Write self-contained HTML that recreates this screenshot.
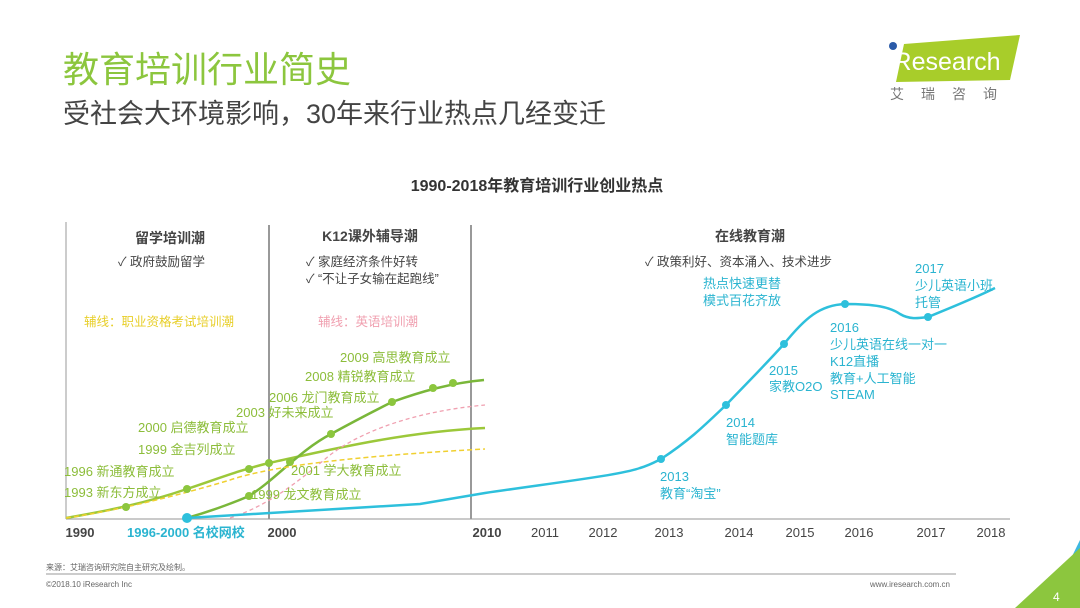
<!DOCTYPE html>
<html><head><meta charset="utf-8"><style>
body{margin:0;background:#fff;}
svg{display:block;font-family:"Liberation Sans","Noto Sans CJK SC",sans-serif;}
</style></head><body>
<svg width="1080" height="608" viewBox="0 0 1080 608">
<text x="63" y="82" font-size="36" fill="#8cc63e">教育培训行业简史</text>
<text x="63" y="123" font-size="27" fill="#444">受社会大环境影响，30年来行业热点几经变迁</text>
<polygon points="904,44 1020,35 1010,80 896,82" fill="#a8cd2a"/>
<circle cx="893" cy="46" r="4" fill="#2a5aa8"/>
<text x="888" y="70" font-size="25" fill="#fff">iResearch</text>
<text x="890" y="99" font-size="14" fill="#777" letter-spacing="17">艾瑞咨询</text>
<text x="537" y="191" font-size="16" font-weight="bold" fill="#333" text-anchor="middle">1990-2018年教育培训行业创业热点</text>
<g stroke="#aaa" stroke-width="1.2" fill="none">
<line x1="66" y1="222" x2="66" y2="519"/>
<line x1="66" y1="519" x2="1010" y2="519"/>
</g>
<g stroke="#999" stroke-width="2"><line x1="269" y1="225" x2="269" y2="519"/><line x1="471" y1="225" x2="471" y2="519"/></g>
<g font-size="14" font-weight="bold" fill="#444" text-anchor="middle">
<text x="170" y="243">留学培训潮</text><text x="370" y="241">K12课外辅导潮</text><text x="750" y="241">在线教育潮</text>
</g>
<g font-size="12.5" fill="#444">
<text x="118" y="266">✓ 政府鼓励留学</text>
<text x="306" y="266">✓   家庭经济条件好转</text>
<text x="306" y="283">✓   “不让子女输在起跑线”</text>
<text x="645" y="266">✓ 政策利好、资本涌入、技术进步</text>
</g>
<text x="84" y="326" font-size="12.5" fill="#e8cf2a">辅线：职业资格考试培训潮</text>
<text x="318" y="326" font-size="12.5" fill="#f0a0b0">辅线：英语培训潮</text>
<g fill="none" stroke-width="2.5">
<path d="M66,518 C100,512 140,505 187,489 C220,478 240,470 269,463 C320,452 400,432 485,428" stroke="#9cc83a"/>
<path d="M187,518 C215,510 240,500 249,496 C275,480 300,450 331,434 C360,418 380,408 392,402 C420,392 450,383 484,380" stroke="#7ab73a"/>
<path d="M66,518 C120,510 180,495 230,480 C260,470 320,458 485,449" stroke="#f0d030" stroke-width="1.5" stroke-dasharray="5,3"/>
<path d="M230,518 C270,505 300,480 330,455 C370,425 430,410 485,405" stroke="#f0a0b0" stroke-width="1.3" stroke-dasharray="4,3"/>
<path d="M187,518 L270,513 L420,504 L485,493 C560,482 620,475 640,468 C650,465 655,462 661,459 C690,440 705,425 726,405 C750,380 765,365 784,344 C805,318 820,305 845,304 C875,304 890,307 900,314 C910,320 920,318 928,317 C950,308 975,298 995,288" stroke="#2ec0dc"/>
</g>
<g fill="#8cc63e">
<circle cx="126" cy="507" r="4"/><circle cx="187" cy="489" r="4"/><circle cx="249" cy="469" r="4"/><circle cx="269" cy="463" r="4"/>
<circle cx="249" cy="496" r="4"/><circle cx="290" cy="462" r="4"/><circle cx="331" cy="434" r="4"/><circle cx="392" cy="402" r="4"/><circle cx="433" cy="388" r="4"/><circle cx="453" cy="383" r="4"/>
</g>
<g fill="#2ec0dc"><circle cx="187" cy="518" r="5"/><circle cx="661" cy="459" r="4"/><circle cx="726" cy="405" r="4"/><circle cx="784" cy="344" r="4"/><circle cx="845" cy="304" r="4"/><circle cx="928" cy="317" r="4"/></g>
<g font-size="13" fill="#8cbd3a">
<text x="340" y="362">2009 高思教育成立</text>
<text x="305" y="381">2008 精锐教育成立</text>
<text x="269" y="402">2006 龙门教育成立</text>
<text x="236" y="417">2003 好未来成立</text>
<text x="138" y="432">2000 启德教育成立</text>
<text x="138" y="454">1999 金吉列成立</text>
<text x="64" y="476">1996 新通教育成立</text>
<text x="64" y="497">1993 新东方成立</text>
<text x="291" y="475">2001 学大教育成立</text>
<text x="251" y="499">1999 龙文教育成立</text>
</g>
<g font-size="13" fill="#2ab4d0">
<text x="703" y="288">热点快速更替</text><text x="703" y="305">模式百花齐放</text>
<text x="915" y="273">2017</text><text x="915" y="290">少儿英语小班</text><text x="915" y="307">托管</text>
<text x="830" y="332">2016</text><text x="830" y="349">少儿英语在线一对一</text><text x="830" y="366">K12直播</text><text x="830" y="383">教育+人工智能</text><text x="830" y="399">STEAM</text>
<text x="769" y="375">2015</text><text x="769" y="391">家教O2O</text>
<text x="726" y="427">2014</text><text x="726" y="444">智能题库</text>
<text x="660" y="481">2013</text><text x="660" y="498">教育“淘宝”</text>
</g>
<g font-size="13" fill="#444" text-anchor="middle">
<text x="80" y="537" font-weight="bold">1990</text>
<text x="282" y="537" font-weight="bold">2000</text>
<text x="487" y="537" font-weight="bold">2010</text>
<text x="545" y="537">2011</text><text x="603" y="537">2012</text><text x="669" y="537">2013</text><text x="739" y="537">2014</text><text x="800" y="537">2015</text><text x="859" y="537">2016</text><text x="931" y="537">2017</text><text x="991" y="537">2018</text>
</g>
<text x="127" y="537" font-size="13" font-weight="bold" fill="#2ab4d0">1996-2000 名校网校</text>
<text x="46" y="570" font-size="8" fill="#666">来源：艾瑞咨询研究院自主研究及绘制。</text>
<line x1="46" y1="574" x2="956" y2="574" stroke="#999" stroke-width="1"/>
<text x="46" y="587" font-size="8" fill="#666">©2018.10 iResearch Inc</text>
<text x="950" y="587" font-size="8" fill="#666" text-anchor="end">www.iresearch.com.cn</text>
<polygon points="1080,540 1080,575 1058,585" fill="#3db8e0"/>
<polygon points="1080,548 1080,608 1015,608" fill="#8cc63e"/>
<text x="1053" y="601" font-size="12" fill="#fff">4</text>
</svg>
</body></html>
